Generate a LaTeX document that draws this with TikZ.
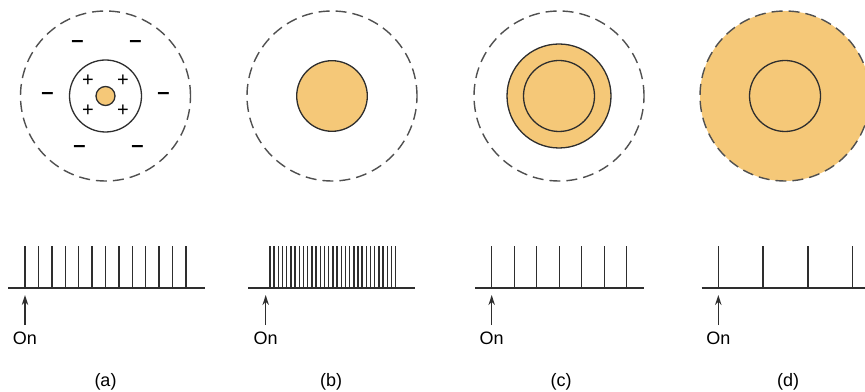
\documentclass[tikz,border=0pt]{standalone}
\usepackage{fontspec}
\setmainfont{Liberation Sans}
\usepackage{tikz}
\usetikzlibrary{arrows.meta}
\definecolor{cellfill}{HTML}{F5C878}
\definecolor{linegray}{HTML}{2E2E2E}
\definecolor{dashgray}{HTML}{505050}

\begin{document}
\begin{tikzpicture}[x=0.5pt,y=0.5pt,>={Stealth[length=5pt,width=3.2pt]},
    field/.style={dashgray,line width=0.7pt,dash pattern=on 5.5pt off 3pt},
    ring/.style={linegray,line width=0.65pt},
    spike/.style={linegray,line width=0.7pt},
    axis/.style={linegray,line width=1pt},
    plussign/.style={inner sep=0pt,font=\fontsize{10}{10}\selectfont},
    minussign/.style={inner sep=0pt,font=\fontsize{11}{11}\selectfont\bfseries},
    caption/.style={font=\fontsize{9}{11}\selectfont}]
    \useasboundingbox (0,0) rectangle (865,391);

    % (a) small spot in the centre
    \coordinate (ca) at (105.5,295);
    \draw[field] (ca) circle[radius=85];
    \draw[ring] (ca) circle[radius=36];
    \filldraw[ring,fill=cellfill] (ca) circle[radius=9.5];
    \foreach \dx/\dy [count=\i] in {-17.5/15,17.5/15,-17.5/-15,17.5/-15}
        \node[plussign] (plus\i) at ([shift={(\dx,\dy)}]ca) {+};
    \foreach \dx/\dy [count=\i] in {-28/52,30/52,-58/0,58/0,-26/-53,32/-53}
        \node[minussign] (minus\i) at ([shift={(\dx,\dy)}]ca) {–};

    % (b) spot fills the centre
    \coordinate (cb) at (332,295);
    \draw[field] (cb) circle[radius=85];
    \filldraw[ring,fill=cellfill] (cb) circle[radius=35.3];

    % (c) spot larger than the centre
    \coordinate (cc) at (559,295);
    \draw[field] (cc) circle[radius=85];
    \filldraw[ring,fill=cellfill] (cc) circle[radius=52];
    \draw[ring] (cc) circle[radius=35.5];

    % (d) whole field lit
    \coordinate (cd) at (785,295);
    \filldraw[field,fill=cellfill] (cd) circle[radius=85];
    \draw[ring] (cd) circle[radius=35.5];

    % spike trains
    \coordinate (axA0) at (8,103.3);     \coordinate (axA1) at (205,103.3);
    \coordinate (axB0) at (248,103.3);   \coordinate (axB1) at (415,103.3);
    \coordinate (axC0) at (475,103.3);   \coordinate (axC1) at (644,103.3);
    \coordinate (axD0) at (701.7,103.3); \coordinate (axD1) at (870,103.3);
    \draw[axis] (axA0) -- (axA1);
    \draw[axis] (axB0) -- (axB1);
    \draw[axis] (axC0) -- (axC1);
    \draw[axis] (axD0) -- (axD1);
    \foreach \k in {0,...,12}
        \draw[spike] ({25+13.4*\k},103.3) -- ++(0,42);
    \foreach \k in {0,...,30}
        \draw[spike] ({270+4.19*\k},103.3) -- ++(0,42);
    \foreach \k in {0,...,6}
        \draw[spike] ({491.7+22.5*\k},103.3) -- ++(0,42);
    \foreach \k in {0,...,3}
        \draw[spike] ({718.3+44.8*\k},103.3) -- ++(0,42);

    % stimulus onset
    \foreach \n/\x in {A/25,B/265.7,C/491.7,D/718.3} {
        \node[caption] (on\n) at (\x,52.5) {On};
        \coordinate (start\n) at (\x,96);
        \draw[spike,->] (on\n) -- (start\n);
    }

    % panel labels
    \node[caption] (labA) at (105.5,9.5) {(a)};
    \node[caption] (labB) at (331,9.5) {(b)};
    \node[caption] (labC) at (561,9.5) {(c)};
    \node[caption] (labD) at (788,9.5) {(d)};
\end{tikzpicture}
\end{document}
